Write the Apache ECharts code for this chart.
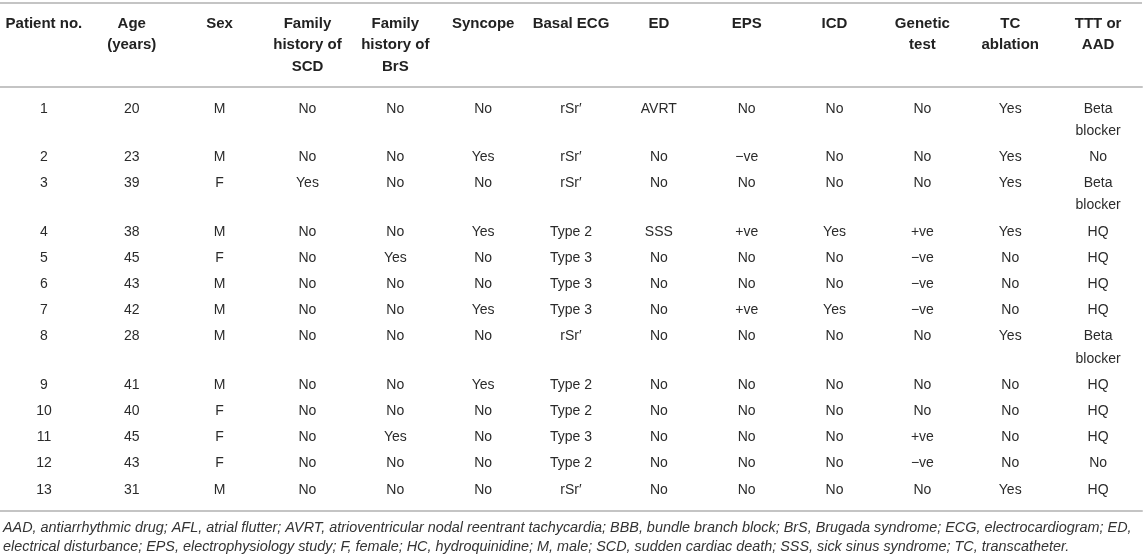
<!DOCTYPE html>
<html>
<head>
<meta charset="utf-8">
<script src="https://cdn.jsdelivr.net/npm/echarts@6/dist/echarts.min.js"></script>
<style>
html,body{margin:0;padding:0;background:#fff;}
#chart{width:1144px;height:558px;}
</style>
</head>
<body>
<div id="chart"></div>
<script>
const headers = ['Patient no.', 'Age\n(years)', 'Sex', 'Family\nhistory of\nSCD', 'Family\nhistory of\nBrS', 'Syncope', 'Basal ECG', 'ED', 'EPS', 'ICD', 'Genetic\ntest', 'TC\nablation', 'TTT or\nAAD'];
const patientNo = ['1','2','3','4','5','6','7','8','9','10','11','12','13'];
const age = ['20','23','39','38','45','43','42','28','41','40','45','43','31'];
const sex = ['M','M','F','M','F','M','M','M','M','F','F','F','M'];
const familySCD = ['No','No','Yes','No','No','No','No','No','No','No','No','No','No'];
const familyBrS = ['No','No','No','No','Yes','No','No','No','No','No','Yes','No','No'];
const syncope = ['No','Yes','No','Yes','No','No','Yes','No','Yes','No','No','No','No'];
const basalECG = ['rSr\u2032','rSr\u2032','rSr\u2032','Type 2','Type 3','Type 3','Type 3','rSr\u2032','Type 2','Type 2','Type 3','Type 2','rSr\u2032'];
const ed = ['AVRT','No','No','SSS','No','No','No','No','No','No','No','No','No'];
const eps = ['No','\u2212ve','No','+ve','No','No','+ve','No','No','No','No','No','No'];
const icd = ['No','No','No','Yes','No','No','Yes','No','No','No','No','No','No'];
const geneticTest = ['No','No','No','+ve','\u2212ve','\u2212ve','\u2212ve','No','No','No','+ve','\u2212ve','No'];
const tcAblation = ['Yes','Yes','Yes','Yes','No','No','No','Yes','No','No','No','No','Yes'];
const tttAAD = ['Beta\nblocker','No','Beta\nblocker','HQ','HQ','HQ','HQ','Beta\nblocker','HQ','HQ','HQ','No','HQ'];
const footnote = 'AAD, antiarrhythmic drug; AFL, atrial flutter; AVRT, atrioventricular nodal reentrant tachycardia; BBB, bundle branch block; BrS, Brugada syndrome; ECG, electrocardiogram; ED,\nelectrical disturbance; EPS, electrophysiology study; F, female; HC, hydroquinidine; M, male; SCD, sudden cardiac death; SSS, sick sinus syndrome; TC, transcatheter.';

const columns = [patientNo, age, sex, familySCD, familyBrS, syncope, basalECG, ed, eps, icd, geneticTest, tcAblation, tttAAD];

// ---- Layout / style ----
const FONT = '"Liberation Sans", Arial, Helvetica, sans-serif';
const RULE = '#c4c4c4';
const ROW_H = 26.2;     // single-line row step
const LINE_H = 22.1;    // extra line inside a cell
const FIRST = 22;       // first row centre below header rule
const GRID_TOP = 87, GRID_BOTTOM = 47, H = 558;
const GRID_H = H - GRID_TOP - GRID_BOTTOM;

// row centre positions on the (hidden) y scale, from the number of lines per row
const rowLines = patientNo.map((_, r) => Math.max(...columns.map(c => c[r].split('\n').length)));
const rowPos = [];
let acc = FIRST;
rowLines.forEach((n, r) => { rowPos.push(acc); acc += ROW_H + (n - 1) * LINE_H; });

const cells = [];
columns.forEach((col, c) => col.forEach((txt, r) => cells.push({ value: [c, rowPos[r]], text: txt })));

const chart = echarts.init(document.getElementById('chart'), null, { renderer: 'canvas' });
chart.setOption({
  animation: false,
  backgroundColor: '#fff',
  title: {
    text: footnote,
    left: 3, top: 519, padding: 0,
    textStyle: { fontFamily: FONT, fontSize: 14.4, fontStyle: 'italic', fontWeight: 'normal', color: '#333', lineHeight: 18.5 }
  },
  graphic: [{
    type: 'line', shape: { x1: 0, y1: 3, x2: 1142, y2: 3 },
    style: { stroke: RULE, lineWidth: 2 }
  }],
  grid: { left: 0, right: 2, top: GRID_TOP, bottom: GRID_BOTTOM, containLabel: false },
  xAxis: [{
    type: 'category', position: 'top', data: headers,
    axisTick: { show: false },
    axisLine: { show: true, lineStyle: { color: RULE, width: 2 } },
    axisLabel: {
      interval: 0, margin: 74, verticalAlign: 'top', align: 'center',
      fontFamily: FONT, fontSize: 15, fontWeight: 'bold', color: '#222', lineHeight: 21.5
    },
    splitLine: { show: false }
  }, {
    type: 'category', position: 'bottom', data: headers,
    axisTick: { show: false }, axisLabel: { show: false },
    axisLine: { show: true, lineStyle: { color: RULE, width: 2 } },
    splitLine: { show: false }
  }],
  yAxis: { type: 'value', inverse: true, min: 0, max: GRID_H, show: false, splitLine: { show: false } },
  series: [{
    type: 'custom',
    coordinateSystem: 'cartesian2d',
    data: cells,
    renderItem: function (params, api) {
      const p = api.coord([api.value(0), api.value(1)]);
      const txt = cells[params.dataIndex].text;
      return {
        type: 'text',
        style: {
          text: txt, x: p[0], y: p[1] - LINE_H / 2,
          align: 'center', verticalAlign: 'top', lineHeight: LINE_H,
          fontFamily: FONT, fontSize: 14, fill: '#2b2b2b'
        }
      };
    }
  }]
});
</script>
</body>
</html>
